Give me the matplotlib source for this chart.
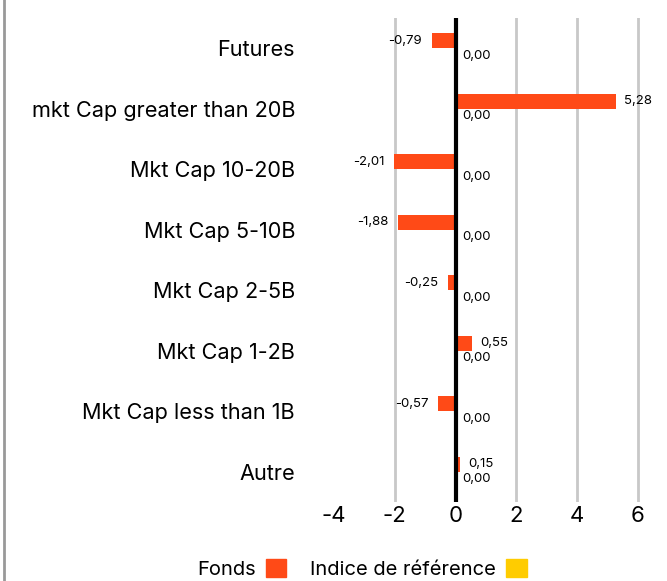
import numpy as np
import matplotlib.pyplot as plt
from matplotlib.lines import Line2D
from matplotlib.patches import Patch

plt.rcParams['font.family'] = ['Inter', 'DejaVu Sans']

# data
categories = ["Futures", "mkt Cap greater than 20B", "Mkt Cap 10-20B", "Mkt Cap 5-10B",
              "Mkt Cap 2-5B", "Mkt Cap 1-2B", "Mkt Cap less than 1B", "Autre"]
fonds = [-0.79, 5.28, -2.01, -1.88, -0.25, 0.55, -0.57, 0.15]
indice = [0.00, 0.00, 0.00, 0.00, 0.00, 0.00, 0.00, 0.00]
xticks = [-4, -2, 0, 2, 4, 6]

ORANGE = "#ff4a17"
YELLOW = "#ffcc00"

W, H = 667, 581
fig = plt.figure(figsize=(W / 100, H / 100), dpi=100)
ax = fig.add_axes([334 / W, (H - 502) / H, 306 / W, 484 / H])

y = np.arange(len(categories))
bh = 0.25
ax.barh(y - bh / 2, fonds, height=bh, color=ORANGE, zorder=3)
ax.barh(y + bh / 2, indice, height=bh, color=YELLOW, zorder=3)

def fmt(v):
    return f"{v:.2f}".replace(".", ",")

for yi, v in zip(y, fonds):
    if v < 0:
        ax.annotate(fmt(v), (v, yi - bh / 2), xytext=(-7, 0), textcoords="offset points",
                    ha="right", va="center", fontsize=9.5, zorder=4)
    else:
        ax.annotate(fmt(v), (v, yi - bh / 2), xytext=(6, 0), textcoords="offset points",
                    ha="left", va="center", fontsize=9.5, zorder=4)
for yi, v in zip(y, indice):
    ax.annotate(fmt(v), (v, yi + bh / 2), xytext=(5, 0), textcoords="offset points",
                ha="left", va="center", fontsize=9.5, zorder=4)

ax.set_xlim(-4, 6.07)
ax.set_ylim(len(categories) - 0.5, -0.5)
ax.set_yticks(y)
ax.set_yticklabels(categories, fontsize=15.6)
ax.set_xticks(xticks)
ax.set_xticklabels([str(t) for t in xticks], fontsize=16)
ax.tick_params(axis="y", length=0, pad=28)
ax.tick_params(axis="x", length=0, pad=3)
for s in ax.spines.values():
    s.set_visible(False)

for t in xticks[1:]:
    if t != 0:
        ax.axvline(t, color="#c8c8c8", lw=2, zorder=1)
ax.axvline(0, color="black", lw=3, zorder=5)

# left border of the frame
fig.add_artist(Line2D([3.5 / W, 3.5 / W], [0, 1], color="#999999", lw=2))

handles = [Patch(color=ORANGE), Patch(color=YELLOW)]
fig.legend(handles, ["Fonds", "Indice de référence"], loc="center",
           bbox_to_anchor=(362 / W, (H - 569) / H), ncol=2, frameon=False,
           markerfirst=False, handlelength=1.0, handleheight=1.0,
           handletextpad=0.5, columnspacing=1.2, fontsize=14.5)

fig.savefig("out.png", dpi=100)
